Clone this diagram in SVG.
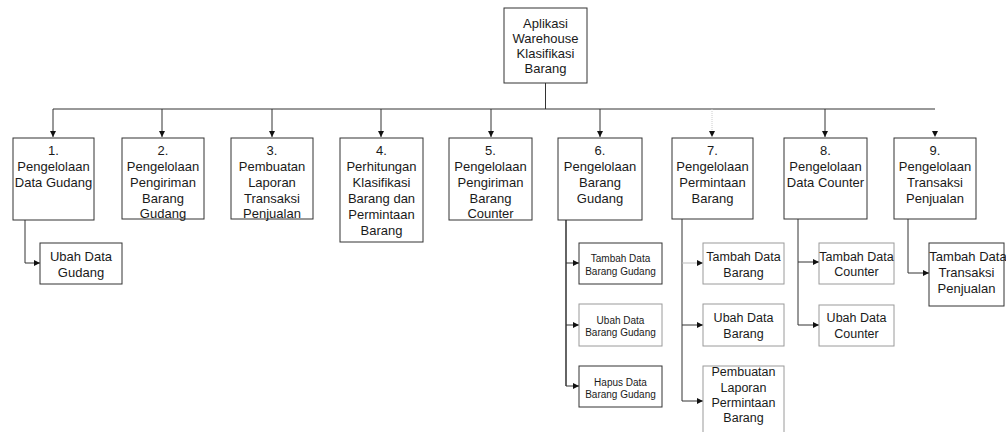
<svg xmlns="http://www.w3.org/2000/svg" width="1006" height="432" viewBox="0 0 1006 432">
  <style>
    .box { fill: #fff; stroke: #333; stroke-width: 1; }
    .box.light { stroke: #9a9a9a; }
    .t { font-family: "Liberation Sans", Arial, sans-serif; font-size: 13px; fill: #1a1a1a; text-anchor: middle; }
    .s { font-size: 10px; }
    .m { font-size: 12.5px; }
    .c { fill: none; stroke: #333; stroke-width: 1; }
    .c.arr { marker-end: url(#head); }
    .c.faint { stroke: #ccc; stroke-dasharray: 1 1; }
  </style>
  <defs>
    <marker id="head" viewBox="0 0 8 8" refX="8" refY="4" markerWidth="6" markerHeight="6" markerUnits="userSpaceOnUse" orient="auto">
      <path d="M0,0 L8,4 L0,8 z" fill="#111"/>
    </marker>
  </defs>

  <rect width="1006" height="432" fill="#fff"/>

  <!-- connectors -->
  <g id="connectors">
    <path class="c" d="M545.5,83 V109"/>
    <path class="c" d="M53,109 H935"/>
    <path class="c arr" d="M53,109 V137"/>
    <path class="c arr" d="M162,109 V137"/>
    <path class="c arr" d="M272,109 V137"/>
    <path class="c arr" d="M381,109 V137"/>
    <path class="c arr" d="M491,109 V137"/>
    <path class="c arr" d="M600,109 V137"/>
    <path class="c faint" d="M712,109 V132"/>
    <path class="c arr" style="stroke:none" d="M712,130 V137"/>
    <path class="c arr" style="stroke:none" d="M935,130 V137"/>
    <path class="c arr" d="M825,109 V137"/>

    <path class="c arr" d="M25,220 V263 H40"/>

    <path class="c" style="stroke:#111;stroke-width:1.3" d="M566,220 V386"/>
    <path class="c arr" d="M566,263 H579"/>
    <path class="c arr" d="M566,325 H579"/>
    <path class="c arr" d="M566,386 H579"/>

    <path class="c" d="M682,219 V401"/>
    <path class="c arr" style="stroke:#bbb" d="M682,263 H703"/>
    <path class="c arr" d="M682,325 H703"/>
    <path class="c arr" d="M682,401 H703"/>

    <path class="c" d="M798,219 V325"/>
    <path class="c arr" d="M798,262 H819"/>
    <path class="c arr" d="M798,325 H819"/>

    <path class="c arr" d="M908,219 V273 H929"/>
  </g>

  <!-- root -->
  <g id="root">
    <rect class="box" x="504" y="8" width="83" height="75"/>
    <text class="t" x="545.5" y="28">Aplikasi</text>
    <text class="t" x="545.5" y="43">Warehouse</text>
    <text class="t" x="545.5" y="58">Klasifikasi</text>
    <text class="t" x="545.5" y="73">Barang</text>
  </g>

  <g id="n1">
    <rect class="box" x="13" y="138" width="81" height="82"/>
    <text class="t" x="53.5" y="155">1.</text>
    <text class="t" x="53.5" y="171">Pengelolaan</text>
    <text class="t" x="53.5" y="187">Data Gudang</text>
  </g>
  <g id="n1a">
    <rect class="box" x="40" y="243" width="82" height="41"/>
    <text class="t" x="81" y="261">Ubah Data</text>
    <text class="t" x="81" y="277">Gudang</text>
  </g>

  <g id="n2">
    <rect class="box" x="122" y="138" width="82" height="81"/>
    <text class="t" x="163" y="155">2.</text>
    <text class="t" x="163" y="171">Pengelolaan</text>
    <text class="t" x="163" y="187">Pengiriman</text>
    <text class="t" x="163" y="203">Barang</text>
    <text class="t" x="163" y="218">Gudang</text>
  </g>

  <g id="n3">
    <rect class="box" x="231" y="138" width="82" height="81"/>
    <text class="t" x="272" y="155">3.</text>
    <text class="t" x="272" y="171">Pembuatan</text>
    <text class="t" x="272" y="187">Laporan</text>
    <text class="t" x="272" y="203">Transaksi</text>
    <text class="t" x="272" y="218">Penjualan</text>
  </g>

  <g id="n4">
    <rect class="box" x="340" y="138" width="83" height="104"/>
    <text class="t" x="381.5" y="155">4.</text>
    <text class="t" x="381.5" y="171">Perhitungan</text>
    <text class="t" x="381.5" y="187">Klasifikasi</text>
    <text class="t" x="381.5" y="203">Barang dan</text>
    <text class="t" x="381.5" y="219">Permintaan</text>
    <text class="t" x="381.5" y="235">Barang</text>
  </g>

  <g id="n5">
    <rect class="box" x="449" y="138" width="83" height="82"/>
    <text class="t" x="490.5" y="155">5.</text>
    <text class="t" x="490.5" y="171">Pengelolaan</text>
    <text class="t" x="490.5" y="187">Pengiriman</text>
    <text class="t" x="490.5" y="203">Barang</text>
    <text class="t" x="490.5" y="218">Counter</text>
  </g>

  <g id="n6">
    <rect class="box" x="558" y="138" width="84" height="82"/>
    <text class="t" x="600" y="155">6.</text>
    <text class="t" x="600" y="171">Pengelolaan</text>
    <text class="t" x="600" y="187">Barang</text>
    <text class="t" x="600" y="203">Gudang</text>
  </g>
  <g id="n6a">
    <rect class="box" x="579" y="243" width="83" height="41"/>
    <text class="t s" x="620.5" y="262">Tambah Data</text>
    <text class="t s" x="620.5" y="275">Barang Gudang</text>
  </g>
  <g id="n6b">
    <rect class="box light" x="579" y="304" width="83" height="42"/>
    <text class="t s" x="620.5" y="324">Ubah Data</text>
    <text class="t s" x="620.5" y="336">Barang Gudang</text>
  </g>
  <g id="n6c">
    <rect class="box" x="579" y="366" width="83" height="41"/>
    <text class="t s" x="620.5" y="386">Hapus Data</text>
    <text class="t s" x="620.5" y="398">Barang Gudang</text>
  </g>

  <g id="n7">
    <rect class="box" x="672" y="138" width="81" height="81"/>
    <text class="t" x="712.5" y="155">7.</text>
    <text class="t" x="712.5" y="171">Pengelolaan</text>
    <text class="t" x="712.5" y="187">Permintaan</text>
    <text class="t" x="712.5" y="203">Barang</text>
  </g>
  <g id="n7a">
    <rect class="box light" x="703" y="243" width="81" height="41"/>
    <text class="t m" x="743.5" y="261">Tambah Data</text>
    <text class="t m" x="743.5" y="277">Barang</text>
  </g>
  <g id="n7b">
    <rect class="box light" x="703" y="304" width="81" height="42"/>
    <text class="t m" x="743.5" y="322">Ubah Data</text>
    <text class="t m" x="743.5" y="338">Barang</text>
  </g>
  <g id="n7c">
    <rect class="box light" x="703" y="366" width="81" height="70"/>
    <text class="t m" x="743.5" y="376">Pembuatan</text>
    <text class="t m" x="743.5" y="392">Laporan</text>
    <text class="t m" x="743.5" y="407">Permintaan</text>
    <text class="t m" x="743.5" y="422">Barang</text>
  </g>

  <g id="n8">
    <rect class="box" x="784" y="138" width="83" height="81"/>
    <text class="t" x="825.5" y="155">8.</text>
    <text class="t" x="825.5" y="171">Pengelolaan</text>
    <text class="t" x="825.5" y="187">Data Counter</text>
  </g>
  <g id="n8a">
    <rect class="box light" x="819" y="243" width="75" height="41"/>
    <text class="t m" x="856.5" y="261">Tambah Data</text>
    <text class="t m" x="856.5" y="276">Counter</text>
  </g>
  <g id="n8b">
    <rect class="box light" x="819" y="305" width="75" height="41"/>
    <text class="t m" x="856.5" y="322">Ubah Data</text>
    <text class="t m" x="856.5" y="338">Counter</text>
  </g>

  <g id="n9">
    <rect class="box" x="894" y="138" width="82" height="81"/>
    <text class="t" x="935" y="155">9.</text>
    <text class="t" x="935" y="171">Pengelolaan</text>
    <text class="t" x="935" y="187">Transaksi</text>
    <text class="t" x="935" y="203">Penjualan</text>
  </g>
  <g id="n9a">
    <rect class="box" x="929" y="243" width="75" height="63"/>
    <text class="t" x="968" y="261">Tambah Data</text>
    <text class="t" x="966.5" y="277">Transaksi</text>
    <text class="t" x="966.5" y="293">Penjualan</text>
  </g>
</svg>
